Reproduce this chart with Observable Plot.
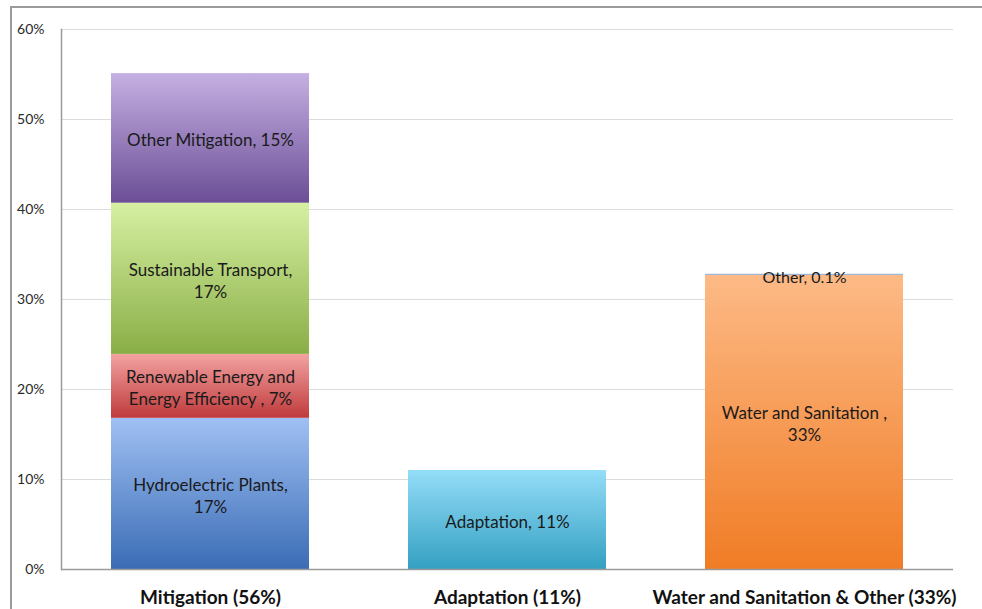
<!DOCTYPE html>
<html><head><meta charset="utf-8">
<script src="https://cdn.jsdelivr.net/npm/d3@7"></script>
<script src="https://cdn.jsdelivr.net/npm/@observablehq/plot@0.6"></script>
<style>
body{margin:0;background:#fff;}
#wrap{position:relative;width:982px;height:609px;overflow:hidden;background:#fff;}
#frame{position:absolute;left:10px;top:6px;right:-5px;bottom:-5px;border-left:2px solid #9a9a9a;border-top:2px solid #9a9a9a;pointer-events:none;z-index:2;}
</style></head><body><div id="wrap"><div id="frame"></div></div>
<script>
// ---- data ----
const categories = ["Mitigation (56%)", "Adaptation (11%)", "Water and Sanitation & Other (33%)"];
const segmentCategory = ["Mitigation (56%)", "Mitigation (56%)", "Mitigation (56%)", "Mitigation (56%)", "Adaptation (11%)", "Water and Sanitation & Other (33%)", "Water and Sanitation & Other (33%)"];
const segmentNames = ["Hydroelectric Plants", "Renewable Energy and Energy Efficiency", "Sustainable Transport", "Other Mitigation", "Adaptation", "Water and Sanitation", "Other"];
const segmentValues = [16.8, 7.1, 16.8, 14.4, 11.0, 32.7, 0.1];
const segmentLabels = ["Hydroelectric Plants,\n17%", "Renewable Energy and\nEnergy Efficiency , 7%", "Sustainable Transport,\n17%", "Other Mitigation, 15%", "Adaptation, 11%", "Water and Sanitation ,\n33%", "Other, 0.1%"];
const yTicks = [0, 10, 20, 30, 40, 50, 60];
// gradient colours (top, bottom) per segment
const gradTop = ["#a0c0f3", "#f3a3a2", "#d6f0a2", "#c5b0e2", "#94ddf8", "#fdba86", "#88aee6"];
const gradBottom = ["#3a6cb5", "#bf3a3b", "#8aae46", "#6b4e96", "#34a0c2", "#f07c25", "#6f98d8"];

const data = segmentNames.map((name, i) => ({
  category: segmentCategory[i], name, value: segmentValues[i], label: segmentLabels[i]
}));
const gradIds = segmentNames.map((_, i) => `grad${i}`);

const chart = Plot.plot({
  width: 982,
  height: 609,
  marginLeft: 61,
  marginRight: 29,
  marginTop: 29,
  marginBottom: 40,
  style: {fontFamily: "Lato, 'Open Sans', sans-serif", background: "transparent"},
  x: {domain: categories, paddingInner: 0.333, paddingOuter: 0.1667, label: null},
  y: {domain: [0, 60], label: null},
  color: {domain: segmentNames, range: gradIds.map(id => `url(#${id})`)},
  marks: [
    Plot.gridY(yTicks, {stroke: "#dcdcdc", strokeOpacity: 1}),
    Plot.axisY(yTicks, {tickFormat: d => d + "%", tickSize: 0, tickPadding: 17, fontSize: 14, color: "#2a2a2a"}),
    Plot.axisX({tickSize: 0, tickPadding: 21, fontSize: 19, fontWeight: "bold", color: "#111"}),
    Plot.barY(data, {x: "category", y: "value", fill: "name"}),
    Plot.text(data.filter(d => d.name !== "Other"), Plot.stackY({x: "category", y: "value", text: "label", fontSize: 17, lineHeight: 1.3, fill: "#1a1a1a", dy: 1})),
    Plot.text(data, Plot.stackY({x: "category", y: "value", text: d => d.name === "Other" ? d.label : "", fontSize: 16, dy: 3, fill: "#1a1a1a"})),
    Plot.ruleY([0], {stroke: "#9a9a9a", strokeWidth: 1.5}),
    Plot.frame({anchor: "left", stroke: "#9a9a9a", strokeWidth: 1.5})
  ]
});

const defs = d3.select(chart).insert("defs", ":first-child");
gradIds.forEach((id, i) => {
  const g = defs.append("linearGradient").attr("id", id).attr("x1", 0).attr("y1", 0).attr("x2", 0).attr("y2", 1);
  g.append("stop").attr("offset", "0%").attr("stop-color", gradTop[i]);
  g.append("stop").attr("offset", "100%").attr("stop-color", gradBottom[i]);
});

document.getElementById("wrap").appendChild(chart);
</script>
</body></html>
